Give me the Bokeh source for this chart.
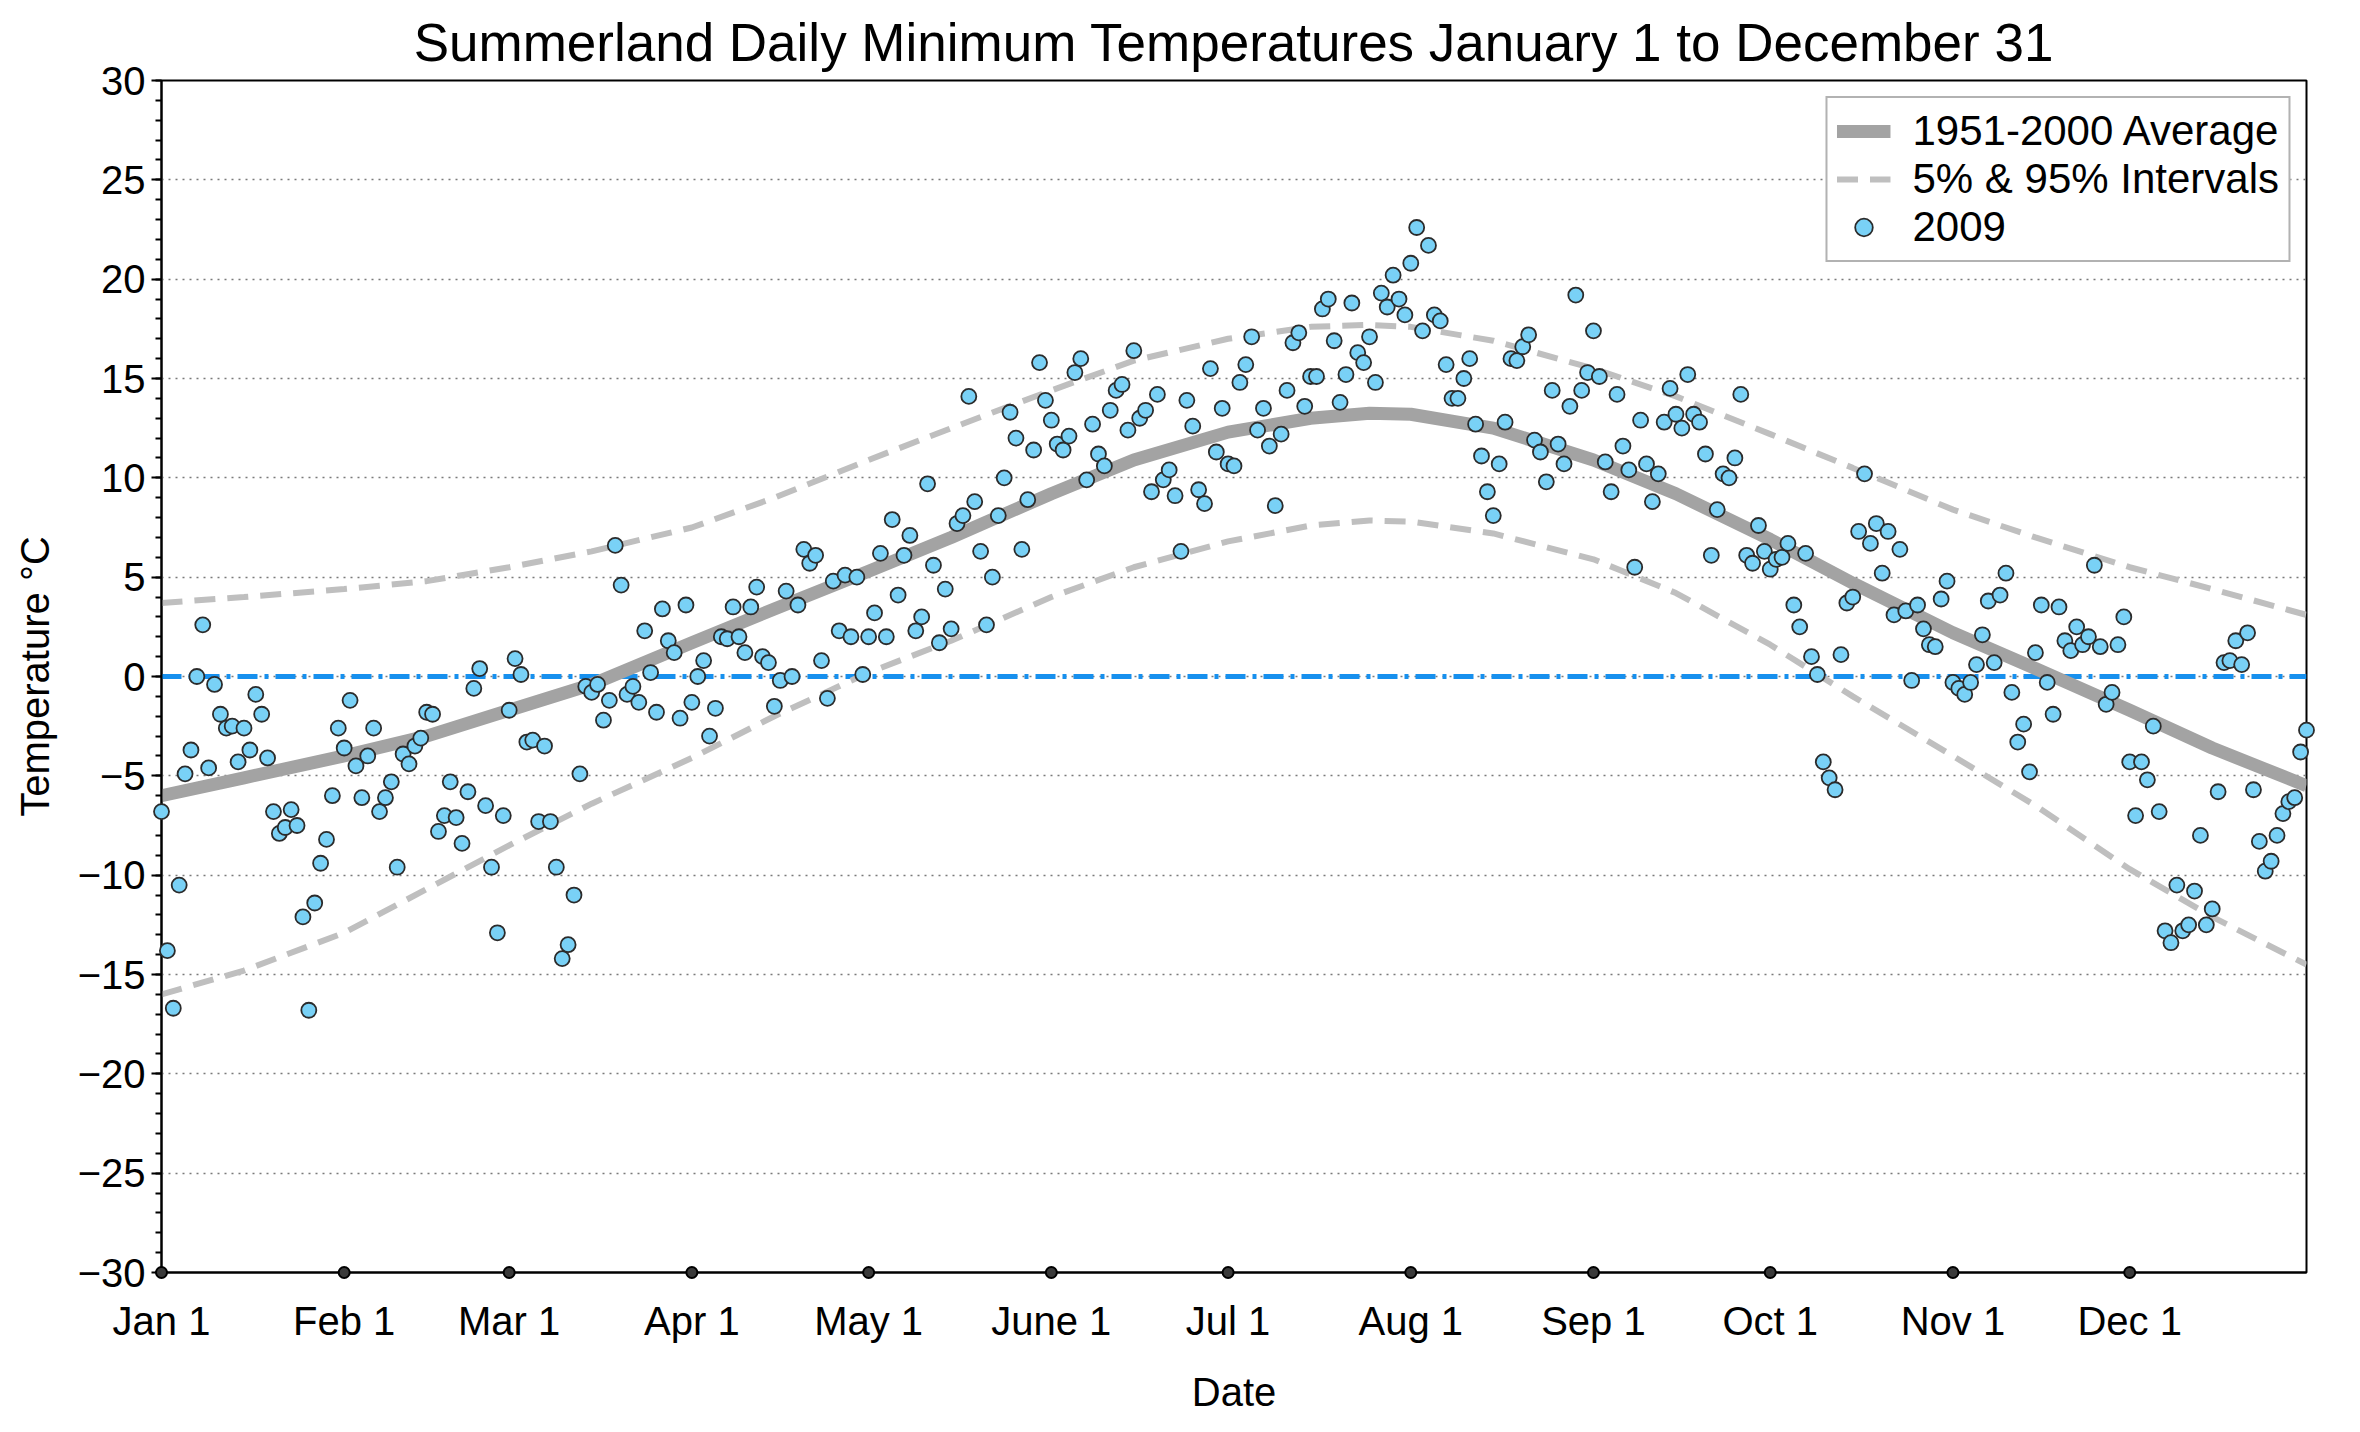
from bokeh.plotting import figure
from bokeh.models import Range1d, SingleIntervalTicker, FixedTicker, Legend, LegendItem, Span
from bokeh.embed import file_html
from bokeh.resources import INLINE

FONT = "Liberation Sans"

# month ticks (day of year, Jan 1 = 0)
month_days = [0, 31, 59, 90, 120, 151, 181, 212, 243, 273, 304, 334]
month_labels = ["Jan 1", "Feb 1", "Mar 1", "Apr 1", "May 1", "June 1",
                "Jul 1", "Aug 1", "Sep 1", "Oct 1", "Nov 1", "Dec 1"]

# 2009 daily minimum temperatures (deg C), one list per month
jan = [-6.8, -13.8, -16.7, -10.5, -4.9, -3.7, 0.0, 2.6, -4.6, -0.4, -1.9, -2.6, -2.5, -4.3, -2.6, -3.7,
       -0.9, -1.9, -4.1, -6.8, -7.9, -7.6, -6.7, -7.5, -12.1, -16.8, -11.4, -9.4, -8.2, -6.0, -2.6]
feb = [-3.6, -1.2, -4.5, -6.1, -4.0, -2.6, -6.8, -6.1, -5.3, -9.6, -3.9, -4.4, -3.5, -3.1, -1.8, -1.9,
       -7.8, -7.0, -5.3, -7.1, -8.4, -5.8, -0.6, 0.4, -6.5, -9.6, -12.9, -7.0]
mar = [-1.7, 0.9, 0.1, -3.3, -3.2, -7.3, -3.5, -7.3, -9.6, -14.2, -13.5, -11.0, -4.9, -0.5, -0.8, -0.4,
       -2.2, -1.2, 6.6, 4.6, -0.9, -0.5, -1.3, 2.3, 0.2, -1.8, 3.4, 1.8, 1.2, -2.1, 3.6]
apr = [-1.3, 0.0, 0.8, -3.0, -1.6, 2.0, 1.9, 3.5, 2.0, 1.2, 3.5, 4.5, 1.0, 0.7, -1.5, -0.2,
       4.3, 0.0, 3.6, 6.4, 5.7, 6.1, 0.8, -1.1, 4.8, 2.3, 5.1, 2.0, 5.0, 0.1]
may = [2.0, 3.2, 6.2, 2.0, 7.9, 4.1, 6.1, 7.1, 2.3, 3.0, 9.7, 5.6, 1.7, 4.4, 2.4, 7.7,
       8.1, 14.1, 8.8, 6.3, 2.6, 5.0, 8.1, 10.0, 13.3, 12.0, 6.4, 8.9, 11.4, 15.8, 13.9]
jun = [12.9, 11.7, 11.4, 12.1, 15.3, 16.0, 9.9, 12.7, 11.2, 10.6, 13.4, 14.4, 14.7, 12.4, 16.4, 13.0,
       13.4, 9.3, 14.2, 9.9, 10.4, 9.1, 6.3, 13.9, 12.6, 9.4, 8.7, 15.5, 11.3, 13.5]
jul = [10.7, 10.6, 14.8, 15.7, 17.1, 12.4, 13.5, 11.6, 8.6, 12.2, 14.4, 16.8, 17.3, 13.6, 15.1, 15.1,
       18.5, 19.0, 16.9, 13.8, 15.2, 18.8, 16.3, 15.8, 17.1, 14.8, 19.3, 18.6, 20.2, 19.0, 18.2]
aug = [20.8, 22.6, 17.4, 21.7, 18.2, 17.9, 15.7, 14.0, 14.0, 15.0, 16.0, 12.7, 11.1, 9.3, 8.1, 10.7,
       12.8, 16.0, 15.9, 16.6, 17.2, 11.9, 11.3, 9.8, 14.4, 11.7, 10.7, 13.6, 19.2, 14.4, 15.3]
sep = [17.4, 15.1, 10.8, 9.3, 14.2, 11.6, 10.4, 5.5, 12.9, 10.7, 8.8, 10.2, 12.8, 14.5, 13.2, 12.5,
       15.2, 13.2, 12.8, 11.2, 6.1, 8.4, 10.2, 10.0, 11.0, 14.2, 6.1, 5.7, 7.6, 6.3]
oct_ = [5.4, 5.9, 6.0, 6.7, 3.6, 2.5, 6.2, 1.0, 0.1, -4.3, -5.1, -5.7, 1.1, 3.7, 4.0, 7.3,
        10.2, 6.7, 7.7, 5.2, 7.3, 3.1, 6.4, 3.3, -0.2, 3.6, 2.4, 1.6, 1.5, 3.9, 4.8]
nov = [-0.3, -0.6, -0.9, -0.3, 0.6, 2.1, 3.8, 0.7, 4.1, 5.2, -0.8, -3.3, -2.4, -4.8, 1.2, 3.6,
       -0.3, -1.9, 3.5, 1.8, 1.3, 2.5, 1.6, 2.0, 5.6, 1.5, -1.4, -0.8, 1.6, 3.0]
dec = [-4.3, -7.0, -4.3, -5.2, -2.5, -6.8, -12.8, -13.4, -10.5, -12.8, -12.5, -10.8, -8.0, -12.5, -11.7, -5.8,
       0.7, 0.8, 1.8, 0.6, 2.2, -5.7, -8.3, -9.8, -9.3, -8.0, -6.9, -6.3, -6.1, -3.8, -2.7]

# 1951-2000 climatology, read at roughly half-month steps
curve_days = [0, 14, 31, 45, 59, 73, 90, 104, 120, 134, 151, 165, 181, 195, 205, 212,
              226, 243, 257, 273, 287, 304, 318, 334, 348, 364]
avg_1951_2000 = [-6.0, -5.1, -4.0, -3.0, -1.7, -0.4, 1.7, 3.4, 5.3, 7.0, 9.2, 10.9, 12.3, 13.0, 13.25, 13.2,
                 12.5, 10.9, 9.2, 6.9, 4.7, 2.2, 0.4, -1.7, -3.6, -5.5]
pct_95 = [3.7, 4.0, 4.4, 4.8, 5.5, 6.3, 7.5, 9.0, 10.9, 12.5, 14.4, 15.9, 17.0, 17.6, 17.7, 17.6,
          16.9, 15.5, 14.1, 12.2, 10.5, 8.4, 7.0, 5.5, 4.4, 3.1]
pct_05 = [-16.0, -14.8, -12.9, -10.7, -8.5, -6.4, -4.1, -2.0, 0.2, 1.8, 4.0, 5.5, 6.8, 7.6, 7.85, 7.8,
          7.2, 5.9, 4.2, 1.6, -1.0, -4.0, -6.5, -9.7, -12.1, -14.5]

temps_2009 = jan + feb + mar + apr + may + jun + jul + aug + sep + oct_ + nov + dec
days = list(range(len(temps_2009)))

y_min, y_max = -30, 30

p = figure(frame_width=2145, frame_height=1192,
           x_range=Range1d(0, 364), y_range=Range1d(y_min, y_max),
           output_backend="svg", toolbar_location=None, tools="",
           min_border_left=161, min_border_right=46, min_border_top=80, min_border_bottom=144,
           title="Summerland Daily Minimum Temperatures January 1 to December 31")
p.title.align = "center"
p.title.text_font = FONT
p.title.text_font_size = "53px"
p.title.text_font_style = "normal"
p.title.text_color = "black"
p.title.standoff = 18

p.outline_line_color = "black"
p.outline_line_width = 2
p.outline_line_alpha = 1

# axes
p.xaxis.ticker = FixedTicker(ticks=month_days)
p.xaxis.major_label_overrides = {d: s for d, s in zip(month_days, month_labels)}
p.xaxis.major_tick_line_color = None
p.xaxis.minor_tick_line_color = None
p.xaxis.major_label_standoff = 20
p.xaxis.axis_label = "Date"
p.xaxis.axis_label_standoff = 24

p.yaxis.ticker = SingleIntervalTicker(interval=5, num_minor_ticks=5)
p.yaxis.major_label_overrides = {t: (("\u2212%d" % -t) if t < 0 else str(t)) for t in range(y_min, y_max + 1, 5)}
p.yaxis.major_tick_out = 10
p.yaxis.major_tick_in = 0
p.yaxis.minor_tick_out = 6
p.yaxis.minor_tick_in = 0
p.yaxis.major_tick_line_width = 2
p.yaxis.minor_tick_line_width = 2
p.yaxis.major_label_standoff = 6
p.yaxis.axis_label = "Temperature \u00b0C"
p.yaxis.axis_label_standoff = 18

for ax in (p.xaxis, p.yaxis):
    ax.axis_line_width = 2
    ax.axis_line_color = "black"
    ax.major_label_text_font = FONT
    ax.major_label_text_font_size = "40px"
    ax.major_label_text_color = "black"
    ax.axis_label_text_font = FONT
    ax.axis_label_text_font_size = "40px"
    ax.axis_label_text_font_style = "normal"
    ax.axis_label_text_color = "black"

p.xgrid.visible = False
p.ygrid.grid_line_color = "#7a7a7a"
p.ygrid.grid_line_width = 1.5
p.ygrid.grid_line_dash = "2 5"

# zero reference line
p.add_layout(Span(location=0, dimension="width", line_color="#1790ee", line_width=5,
                  line_dash="20 7 4 7", level="underlay"))

lo_r = p.line(curve_days, pct_05, line_color="#bfbfbf", line_width=6, line_dash="21 12")
hi_r = p.line(curve_days, pct_95, line_color="#bfbfbf", line_width=6, line_dash="21 12")
avg_r = p.line(curve_days, avg_1951_2000, line_color="#a3a3a3", line_width=13, line_join="round")

pts_r = p.scatter(days, temps_2009, marker="circle", size=15, fill_color="#79d1f6",
                  line_color="#2b2b2b", line_width=1.8)
pts_r.level = "overlay"

# month markers on the bottom axis
mk_r = p.scatter(month_days, [y_min] * len(month_days), marker="circle", size=11,
                 fill_color="#3a3a3a", line_color="black", line_width=2)
mk_r.level = "overlay"

legend = Legend(items=[
    LegendItem(label="1951-2000 Average", renderers=[avg_r]),
    LegendItem(label="5% & 95% Intervals", renderers=[hi_r]),
    LegendItem(label="2009", renderers=[pts_r]),
], location="top_right")
legend.label_text_font = FONT
legend.label_text_font_size = "42px"
legend.label_text_color = "black"
legend.glyph_width = 54
legend.glyph_height = 44
legend.label_height = 44
legend.spacing = 0
legend.padding = 9
legend.margin = 16
legend.label_standoff = 22
legend.border_line_color = "#666666"
legend.border_line_width = 2
legend.background_fill_alpha = 1
p.add_layout(legend)

open("out.html", "w").write(file_html(p, INLINE))
